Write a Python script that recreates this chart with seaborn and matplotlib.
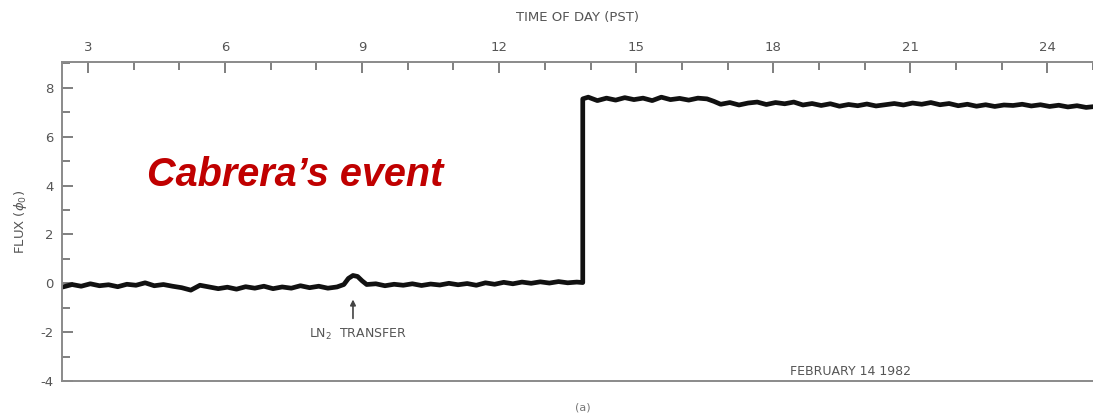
import matplotlib
matplotlib.use("Agg")
import matplotlib.pyplot as plt
import seaborn as sns
import pandas as pd
from matplotlib.ticker import MultipleLocator

# ---- data ----
pre_hours = [2.45, 2.65, 2.85, 3.05, 3.25, 3.45, 3.65, 3.85, 4.05, 4.25, 4.45, 4.65,
             4.85, 5.05, 5.25, 5.45, 5.65, 5.85, 6.05, 6.25, 6.45, 6.65, 6.85, 7.05,
             7.25, 7.45, 7.65, 7.85, 8.05, 8.25, 8.45, 8.6, 8.7, 8.8, 8.9, 9.0, 9.1,
             9.3, 9.5, 9.7, 9.9, 10.1, 10.3, 10.5, 10.7, 10.9, 11.1, 11.3, 11.5, 11.7,
             11.9, 12.1, 12.3, 12.5, 12.7, 12.9, 13.1, 13.3, 13.5, 13.7, 13.83]
pre_flux = [-0.15, -0.05, -0.12, -0.02, -0.10, -0.06, -0.14, -0.04, -0.08, 0.02, -0.10, -0.05,
            -0.12, -0.18, -0.28, -0.08, -0.15, -0.22, -0.16, -0.24, -0.14, -0.20, -0.12, -0.22,
            -0.15, -0.20, -0.10, -0.18, -0.12, -0.20, -0.15, -0.05, 0.20, 0.32, 0.28, 0.10, -0.05,
            -0.02, -0.10, -0.04, -0.08, -0.02, -0.09, -0.03, -0.07, 0.00, -0.06, -0.01, -0.08, 0.02,
            -0.04, 0.04, -0.02, 0.05, 0.00, 0.06, 0.01, 0.07, 0.02, 0.05, 0.03]
post_hours = [13.83, 13.95, 14.15, 14.35, 14.55, 14.75, 14.95, 15.15, 15.35, 15.55, 15.75,
              15.95, 16.15, 16.35, 16.55, 16.7, 16.85, 17.05, 17.25, 17.45, 17.65, 17.85,
              18.05, 18.25, 18.45, 18.65, 18.85, 19.05, 19.25, 19.45, 19.65, 19.85, 20.05,
              20.25, 20.45, 20.65, 20.85, 21.05, 21.25, 21.45, 21.65, 21.85, 22.05, 22.25,
              22.45, 22.65, 22.85, 23.05, 23.25, 23.45, 23.65, 23.85, 24.05, 24.25, 24.45,
              24.65, 24.85, 25.0]
post_flux = [7.55, 7.62, 7.48, 7.58, 7.50, 7.60, 7.52, 7.58, 7.48, 7.62, 7.52,
             7.57, 7.50, 7.58, 7.55, 7.45, 7.33, 7.40, 7.30, 7.38, 7.42, 7.32,
             7.40, 7.35, 7.42, 7.30, 7.36, 7.28, 7.35, 7.25, 7.32, 7.27, 7.34,
             7.26, 7.31, 7.36, 7.30, 7.38, 7.33, 7.40, 7.31, 7.36, 7.27, 7.33,
             7.25, 7.31, 7.24, 7.30, 7.28, 7.33, 7.26, 7.31, 7.24, 7.29, 7.22,
             7.27, 7.20, 7.23]
x_ticks = [3, 6, 9, 12, 15, 18, 21, 24]
y_ticks = [-4, -2, 0, 2, 4, 6, 8]
event_hour = 13.83
transfer_hour = 8.8

df = pd.DataFrame({"hour": pre_hours + post_hours, "flux": pre_flux + post_flux})

sns.set_theme(style="white")
plt.rcParams['font.family'] = ['DejaVu Sans']

gray = "#6a6a6a"
fig = plt.figure(figsize=(10.93, 4.18), dpi=100)
ax = fig.add_axes([62/1093, 1 - 381/418, 1 - 62/1093, (381 - 62)/418])

sns.lineplot(data=df, x="hour", y="flux", ax=ax, color="#111111", lw=3.4,
             estimator=None, sort=False)

ax.set_xlim(2.43, 25.0)
ax.set_ylim(-4, 9.06)
ax.xaxis.tick_top()
ax.xaxis.set_label_position("top")
ax.set_xticks(x_ticks)
ax.set_xticklabels([str(t) for t in x_ticks])
ax.xaxis.set_minor_locator(MultipleLocator(1))
ax.set_yticks(y_ticks)
ax.set_yticklabels([str(t) for t in y_ticks])
ax.yaxis.set_minor_locator(MultipleLocator(1))
ax.tick_params(axis="both", which="both", direction="in", colors=gray,
               labelcolor="#555555", labelsize=9.5, width=1.2)
ax.tick_params(axis="both", which="major", length=8, pad=6)
ax.tick_params(axis="both", which="minor", length=6)
ax.tick_params(axis="x", which="both", top=True, bottom=False)
ax.tick_params(axis="y", which="both", left=True, right=False)
ax.set_xlabel("TIME OF DAY (PST)", color="#555555", fontsize=9.5, labelpad=14)
ax.set_ylabel(r"FLUX ($\phi_0$)", color="#555555", fontsize=9.5, labelpad=8)

for side in ["left", "top", "bottom"]:
    ax.spines[side].set_color("#8a8a8a")
    ax.spines[side].set_linewidth(1.4)
ax.spines["right"].set_visible(False)

ax.text(4.28, 4.45, "Cabrera\u2019s event", color="#C00000", fontsize=28.5,
        fontweight="bold", fontstyle="italic",
        family=["Liberation Sans", "DejaVu Sans"],
        ha="left", va="center")

ax.annotate("", xy=(transfer_hour, -0.55), xytext=(transfer_hour, -1.55),
            arrowprops=dict(arrowstyle="-|>", color="#444444", lw=1.2,
                            mutation_scale=8))
ax.text(transfer_hour + 0.1, -2.1, r"LN$_2$  TRANSFER", color="#555555", fontsize=9,
        ha="center", va="center")
ax.text(19.7, -3.62, "FEBRUARY 14 1982", color="#555555", fontsize=9,
        ha="center", va="center")
ax.text(event_hour, -5.1, "(a)", color="#777777", fontsize=8,
        ha="center", va="center", clip_on=False)

fig.savefig("out.png", dpi=100, facecolor="white")
